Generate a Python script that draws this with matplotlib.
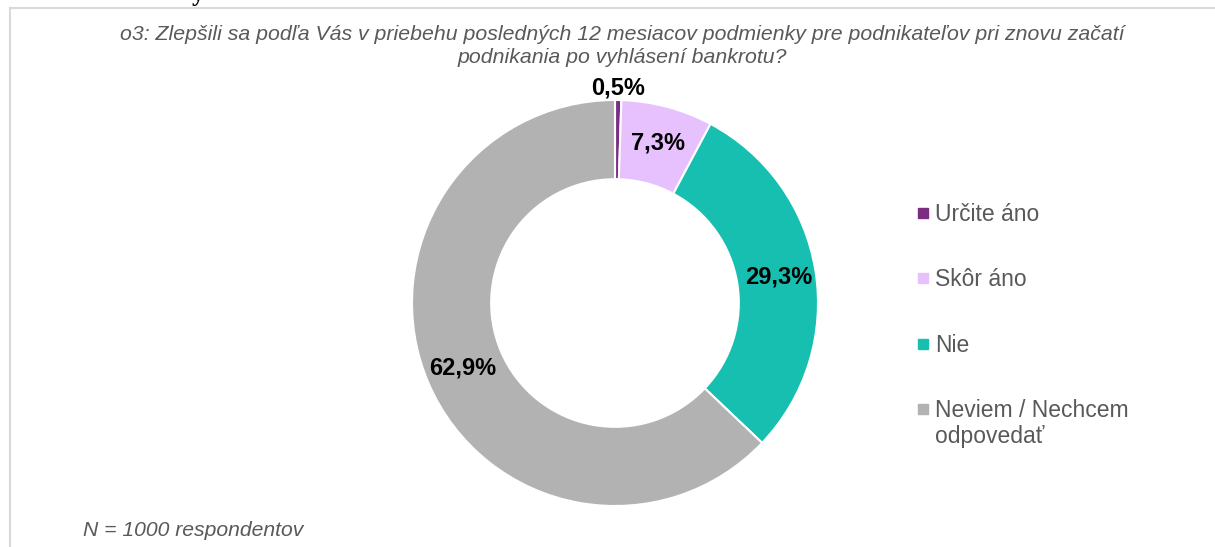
import matplotlib.pyplot as plt
from matplotlib.lines import Line2D
import numpy as np

# answers to question o3, share of respondents in %
labels = ['Určite áno', 'Skôr áno', 'Nie', 'Neviem / Nechcem']
label_tail = 'odpovedať'  # second line of the last legend entry
values = [0.5, 7.3, 29.3, 62.9]
colors = ['#7B2C83', '#E6C1FD', '#17BFB0', '#B2B2B2']

title = ('o3: Zlepšili sa podľa Vás v priebehu posledných 12 mesiacov podmienky pre podnikateľov pri znovu začatí\n'
         'podnikania po vyhlásení bankrotu?')
note = 'N = 1000 respondentov'

plt.rcParams['font.family'] = ['Liberation Sans', 'DejaVu Sans']

W, H = 1215, 547
fig = plt.figure(figsize=(W / 100, H / 100), dpi=100)

# donut centred at (615, 303) px, outer radius 203 px
cx, cy, r = 615, 303, 203
ax = fig.add_axes([(cx - r) / W, (H - cy - r) / H, 2 * r / W, 2 * r / H])
wedges, _ = ax.pie(values, colors=colors, startangle=90, counterclock=False,
                   radius=1, wedgeprops=dict(width=0.39, edgecolor='white', linewidth=1.5))
ax.set_xlim(-1, 1)
ax.set_ylim(-1, 1)
ax.set_aspect('equal')

for w, v in zip(wedges, values):
    ang = np.deg2rad((w.theta1 + w.theta2) / 2)
    rr = 1.06 if v < 2 else 0.815
    ax.text(rr * np.cos(ang), rr * np.sin(ang), f'{v:.1f}%'.replace('.', ','),
            ha='center', va='center', fontsize=17, fontweight='bold', color='black')

handles = [Line2D([], [], marker='s', linestyle='none', markersize=7,
                  markerfacecolor=c, markeredgecolor=c) for c in colors]
leg = fig.legend(handles, labels, loc='upper left', bbox_to_anchor=(917 / W, 1 - 203 / H),
                 frameon=False, fontsize=16.5, labelcolor='#595959',
                 handlelength=0.5, handletextpad=0.3, labelspacing=1.85, borderpad=0, borderaxespad=0)
fig.text(935 / W, 1 - 437 / H, label_tail, ha='left', va='center', fontsize=16.5, color='#595959')

fig.text(622 / W, 1 - 46 / H, title, ha='center', va='center', fontsize=15.3,
         style='italic', color='#595959', linespacing=1.33)
fig.text(83 / W, 1 - 530 / H, note, ha='left', va='center', fontsize=15.2,
         style='italic', color='#595959')

# clipped glyph of a heading above the picture
fig.text(198 / W, 1 - 1 / H, 'y', ha='center', va='baseline', fontsize=18,
         fontweight='bold', family='Liberation Serif', color='black')

# thin frame on the left and top
fig.add_artist(Line2D([10 / W, 10 / W], [0, 1 - 8 / H], color='#D9D9D9', linewidth=1.5))
fig.add_artist(Line2D([10 / W, 1], [1 - 8 / H, 1 - 8 / H], color='#D9D9D9', linewidth=1.5))

fig.savefig('out.png', dpi=100)
